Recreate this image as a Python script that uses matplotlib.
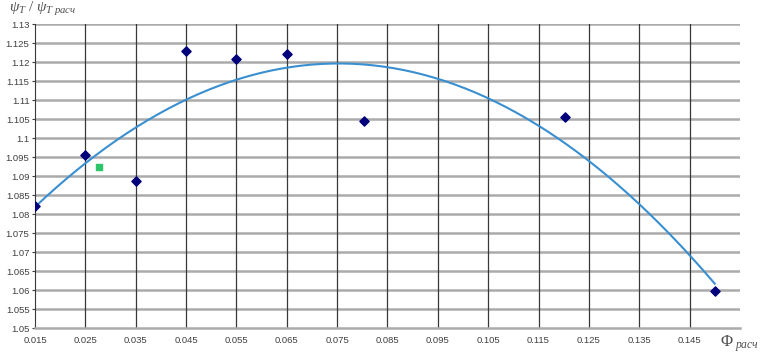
import numpy as np
import matplotlib
matplotlib.use("Agg")
import matplotlib.pyplot as plt

# ---------------- data ----------------
phi = [0.015, 0.025, 0.035, 0.045, 0.055, 0.065, 0.0803, 0.1203, 0.150]
psi = [1.0820, 1.0956, 1.0888, 1.1228, 1.1208, 1.1220, 1.1045, 1.1055, 1.0597]
extra_phi = [0.0278]
extra_psi = [1.0925]

x_ticks = np.arange(0.015, 0.1451, 0.01)
y_ticks = np.arange(1.05, 1.1301, 0.005)

plt.rcParams["font.family"] = "Liberation Sans"
plt.rcParams["mathtext.fontset"] = "custom"
plt.rcParams["mathtext.it"] = "Liberation Serif:italic"
plt.rcParams["mathtext.rm"] = "Liberation Serif"

# ---------------- figure ----------------
fig = plt.figure(figsize=(7.62, 3.59), dpi=100)
ax = fig.add_axes([0.046, 0.086, 0.925, 0.847])

ax.set_xlim(0.015, 0.155)
ax.set_ylim(1.05, 1.13)
ax.set_xticks(x_ticks)
ax.set_xticklabels([f"{v:.3f}" for v in x_ticks])
ax.set_yticks(y_ticks)
ax.set_yticklabels([f"{v:.3f}".rstrip("0").rstrip(".") for v in y_ticks])
ax.tick_params(labelsize=6.8, colors="#404040", length=2.5, width=0.8, pad=1.5)
ax.tick_params(axis="x", length=0, pad=6)

# grid: dark vertical, thick grey horizontal
for v in x_ticks[1:]:
    ax.axvline(v, color="#383838", lw=0.9, zorder=1)
for v in y_ticks[1:]:
    ax.axhline(v, color="#ababab", lw=1.8, zorder=0.5)

for s in ["top", "right"]:
    ax.spines[s].set_visible(False)
ax.spines["left"].set_color("#383838")
ax.spines["bottom"].set_color("#ababab")
ax.spines["bottom"].set_linewidth(1.8)

# polynomial trendline through the measured points
coef = np.polyfit(phi, psi, 2)
xs = np.linspace(min(phi), max(phi), 200)
ax.plot(xs, np.polyval(coef, xs), color="#3a8fd0", lw=1.5, zorder=3)

ax.scatter(phi, psi, marker="D", s=22, color="#00007a", zorder=4)
ax.scatter(extra_phi, extra_psi, marker="s", s=22, color="#2ec46a", zorder=4)

fig.text(0.012, 0.968, r"$\psi_T\ /\ \psi_{T\ расч}$", fontsize=11, color="#505050")
fig.text(0.945, 0.035, r"$\Phi_{\ расч}$", fontsize=12, color="#505050")

fig.savefig("out.png", dpi=100)
